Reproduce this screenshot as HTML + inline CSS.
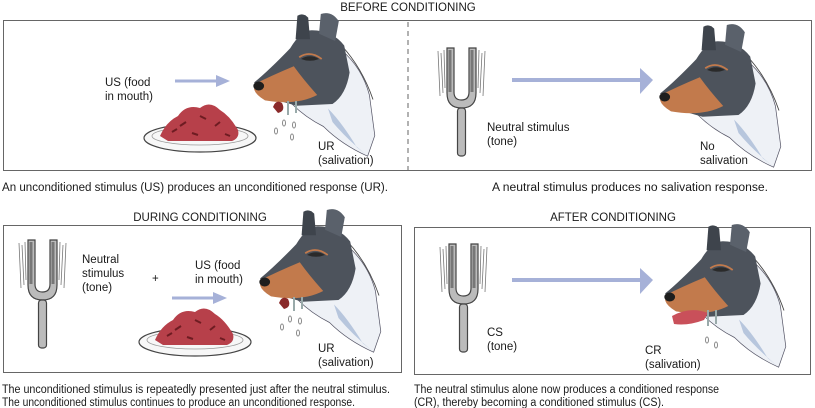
<!DOCTYPE html>
<html><head><meta charset="utf-8"><style>
html,body{margin:0;padding:0;background:#fff;}
svg{display:block;}
text{font-family:"Liberation Sans",sans-serif;font-size:11.5px;fill:#1a1a1a;}
</style></head><body>
<svg width="815" height="408" viewBox="0 0 815 408" xmlns="http://www.w3.org/2000/svg">
<defs>
  <g id="fork">
    <path d="M-9,3 L-7,48 M-6,5 L-4,45 M-3,2 L-2,40 M38,3 L36,48 M35,5 L33,45 M32,2 L31,40" stroke="#777" stroke-width="0.8" fill="none"/>
    <path d="M0,0 L0,45 Q0,60 14.5,60 Q29,60 29,45 L29,0 L22,0 L22,44 Q22,52 14.5,52 Q7,52 7,44 L7,0 Z" fill="#bbb" stroke="#444" stroke-width="1.2"/>
    <path d="M3,2 L3,44 M25,2 L25,44" stroke="#777" stroke-width="3"/>
    <rect x="10.5" y="60" width="8" height="48" rx="3" fill="#bbb" stroke="#444" stroke-width="1.2"/>
  </g>
  <g id="dog" transform="scale(0.9)">
    <path d="M40,10 L95,-40 Q118,-20 126,10 L132,55 L124,78 Q95,65 75,45 Q55,35 40,20 Z" fill="#eef1f6" stroke="#556" stroke-width="0.8"/>
    <path d="M95,-45 Q118,-20 130,15" stroke="#444" stroke-width="1" fill="none"/>
    <path d="M80,25 Q95,40 112,68 L122,76 Q100,58 85,40 Z" fill="#b7c6dd"/>
    <path d="M-2,-4 Q15,-18 38,-42 Q50,-62 62,-62 Q85,-62 98,-45 L104,-15 Q100,10 85,20 L45,22 Q20,15 2,8 Z" fill="#4d535c"/>
    <path d="M44,-52 L46,-78 Q52,-82 58,-76 L60,-52 Z" fill="#3e444c"/>
    <path d="M70,-58 L72,-80 Q84,-84 92,-72 L88,-50 Z" fill="#5a616b"/>
    <path d="M-2,-2 Q18,-12 42,-22 Q52,-8 68,10 Q45,22 10,16 Q0,10 -2,4 Z" fill="#c27a4c"/>
    <path d="M50,-30 Q60,-36 70,-30 Q60,-26 50,-30 Z" fill="#2a2a2a"/>
    <path d="M48,-32 Q60,-40 73,-30" stroke="#c27a4c" stroke-width="2" fill="none"/>
    <ellipse cx="3" cy="0" rx="6" ry="5" fill="#1e1e1e"/>
  </g>
  <g id="food">
    <ellipse cx="0" cy="0" rx="56" ry="14" fill="#f7f7f7" stroke="#444" stroke-width="1.2"/>
    <ellipse cx="0" cy="-2" rx="48" ry="9" fill="none" stroke="#999" stroke-width="0.8"/>
    <path d="M-40,-2 Q-34,-16 -22,-22 Q-14,-34 0,-30 Q10,-38 20,-28 Q30,-22 38,-8 Q40,0 32,3 L-32,3 Z" fill="#b7404a"/>
    <path d="M-20,-12 l6,-4 M0,-22 l6,3 M15,-12 l5,-4 M-8,-5 l6,2 M-28,-6 l5,-3 M25,-4 l5,2" stroke="#6e1c22" stroke-width="2"/>
  </g>
  <g id="drool">
    <path d="M-15,14 Q-12,6 -6,10 Q-2,18 -10,20 Z" fill="#8a2a2a"/>
    <path d="M0,8 L0,22 M8,8 L8,20" stroke="#9aa" stroke-width="2"/>
    <ellipse cx="-4" cy="30" rx="1.5" ry="3" fill="none" stroke="#888"/>
    <ellipse cx="6" cy="32" rx="1.5" ry="3" fill="none" stroke="#888"/>
    <ellipse cx="-12" cy="38" rx="1.5" ry="3" fill="none" stroke="#888"/>
    <ellipse cx="4" cy="44" rx="1.5" ry="3" fill="none" stroke="#888"/>
  </g>
</defs>

<text x="408" y="11" text-anchor="middle">BEFORE CONDITIONING</text>
<rect x="3.5" y="20.5" width="808" height="150" fill="none" stroke="#666" stroke-width="1"/>
<line x1="408" y1="22" x2="408" y2="170" stroke="#666" stroke-dasharray="5,4"/>

<text x="105" y="86">US (food</text>
<text x="105" y="100">in mouth)</text>
<path d="M175,81 L218,81" stroke="#a6b1d8" stroke-width="3"/>
<polygon points="216,75 230,81 216,87" fill="#a6b1d8"/>
<use href="#food" x="200" y="138"/>
<use href="#dog" x="256" y="86"/>
<use href="#drool" x="288" y="93"/>
<text x="318" y="150">UR</text>
<text x="318" y="164">(salivation)</text>
<text x="2" y="191" textLength="386" lengthAdjust="spacingAndGlyphs">An unconditioned stimulus (US) produces an unconditioned response (UR).</text>

<use href="#fork" x="447" y="48"/>
<text x="487" y="131">Neutral stimulus</text>
<text x="487" y="145">(tone)</text>
<path d="M512,80 L645,80" stroke="#a6b1d8" stroke-width="4"/>
<polygon points="640,68 653,80 640,94" fill="#a6b1d8"/>
<use href="#dog" x="662" y="97"/>
<text x="700" y="150">No</text>
<text x="700" y="164">salivation</text>
<text x="492" y="191" textLength="276" lengthAdjust="spacingAndGlyphs">A neutral stimulus  produces no salivation response.</text>

<text x="200" y="221" text-anchor="middle">DURING CONDITIONING</text>
<rect x="3.5" y="225.5" width="398" height="147" fill="none" stroke="#666" stroke-width="1"/>
<use href="#fork" x="28" y="240"/>
<text x="82" y="263">Neutral</text>
<text x="82" y="277">stimulus</text>
<text x="82" y="291">(tone)</text>
<text x="152" y="282" font-size="16">+</text>
<text x="195" y="269">US (food</text>
<text x="195" y="283">in mouth)</text>
<path d="M172,298 L215,298" stroke="#a6b1d8" stroke-width="3"/>
<polygon points="213,292 227,298 213,304" fill="#a6b1d8"/>
<use href="#food" x="195" y="342"/>
<use href="#dog" x="262" y="282"/>
<use href="#drool" x="294" y="289"/>
<text x="318" y="352">UR</text>
<text x="318" y="366">(salivation)</text>
<text x="2" y="393" textLength="388" lengthAdjust="spacingAndGlyphs">The unconditioned stimulus is repeatedly presented just after the neutral stimulus.</text>
<text x="2" y="406" textLength="353" lengthAdjust="spacingAndGlyphs">The unconditioned stimulus continues to produce an unconditioned response.</text>

<text x="613" y="221" text-anchor="middle">AFTER CONDITIONING</text>
<rect x="414.5" y="227.5" width="396" height="147" fill="none" stroke="#666" stroke-width="1"/>
<use href="#fork" x="449" y="244"/>
<text x="487" y="336">CS</text>
<text x="487" y="350">(tone)</text>
<path d="M512,280 L645,280" stroke="#a6b1d8" stroke-width="4"/>
<polygon points="640,268 653,280 640,294" fill="#a6b1d8"/>
<use href="#dog" x="667" y="297"/>
<path d="M672,316 Q690,306 708,313 L704,320 Q688,326 674,324 Z" fill="#c9505a"/>
<path d="M708,310 L708,326 M716,310 L716,324" stroke="#9aa" stroke-width="2"/>
<ellipse cx="707" cy="340" rx="1.5" ry="3" fill="none" stroke="#888"/>
<ellipse cx="716" cy="345" rx="1.5" ry="3" fill="none" stroke="#888"/>
<text x="645" y="354">CR</text>
<text x="645" y="368">(salivation)</text>
<text x="414" y="393" textLength="305" lengthAdjust="spacingAndGlyphs">The neutral stimulus alone now produces a conditioned response</text>
<text x="414" y="406" textLength="250" lengthAdjust="spacingAndGlyphs">(CR), thereby becoming a conditioned stimulus (CS).</text>
</svg>
</body></html>
